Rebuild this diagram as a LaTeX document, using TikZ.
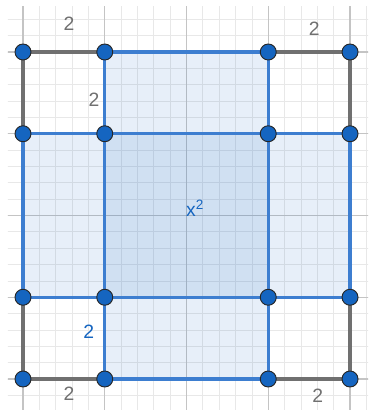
\documentclass[tikz,border=0pt]{standalone}
\usepackage{fontspec}
\setmainfont{Liberation Sans}
\definecolor{ggblue}{HTML}{1565C0}
\definecolor{ggline}{HTML}{3D7ED0}
\definecolor{gggray}{HTML}{707070}
\definecolor{majgrid}{HTML}{C4C4C4}
\definecolor{mingrid}{HTML}{E8E8E8}
\tikzset{
  bluefill/.style={fill=ggblue, fill opacity=0.1},
  centerfill/.style={fill=ggblue, fill opacity=0.2},
  blueedge/.style={draw=ggline, line width=2.5pt, line cap=round},
  grayedge/.style={draw=gggray, line width=2.5pt, line cap=round},
  dot/.style={circle, fill=ggblue, draw=black!85, line width=0.7pt, minimum size=12pt, inner sep=0pt},
  graylabel/.style={text=gggray, font=\fontsize{14.5}{16}\selectfont},
  bluelabel/.style={text=ggblue, font=\fontsize{14.5}{16}\selectfont},
}
\begin{document}
\begin{tikzpicture}[x=30.656pt,y=30.656pt]
\useasboundingbox (-0.5627,-0.758) rectangle (8.587,9.272);
% grid
\begin{scope}
\clip (-0.367,-0.76) rectangle (8.44,9.125);
\draw[mingrid, line width=0.6pt] (-0.8,-1.2) grid[step=0.4] (8.8,9.6);
\draw[majgrid, line width=0.8pt] (-2,-2) grid[step=2] (10,10);
\end{scope}
% coordinates
\foreach \i/\x in {0/0,1/2,2/6,3/8}{
  \foreach \j/\y in {0/0,1/2,2/6,3/8}{
    \coordinate (p\i\j) at (\x,\y);
  }
}
% fills
\fill[bluefill] (p12) rectangle (p23);
\fill[bluefill] (p10) rectangle (p21);
\fill[bluefill] (p01) rectangle (p12);
\fill[bluefill] (p21) rectangle (p32);
\fill[centerfill] (p11) rectangle (p22);
% gray edges
\draw[grayedge] (p02) -- (p03) -- (p13);
\draw[grayedge] (p23) -- (p33) -- (p32);
\draw[grayedge] (p01) -- (p00) -- (p10);
\draw[grayedge] (p20) -- (p30) -- (p31);
% blue edges
\draw[blueedge] (p12) rectangle (p23);
\draw[blueedge] (p10) rectangle (p21);
\draw[blueedge] (p01) rectangle (p12);
\draw[blueedge] (p21) rectangle (p32);
% dots
\foreach \i in {0,1,2,3}{
  \foreach \j in {0,1,2,3}{
    \node[dot] (d\i\j) at (p\i\j) {};
  }
}
% labels
\node[graylabel] (l1) at (1.125,8.685) {2};
\node[graylabel] (l2) at (1.737,6.826) {2};
\node[graylabel] (l3) at (7.127,8.563) {2};
\node[bluelabel] (l4) at (1.607,1.157) {2};
\node[graylabel] (l5) at (1.125,-0.367) {2};
\node[graylabel] (l6) at (7.209,-0.408) {2};
\node[bluelabel] (lx) at (4.208,4.176) {x\textsuperscript{2}};
\end{tikzpicture}
\end{document}
